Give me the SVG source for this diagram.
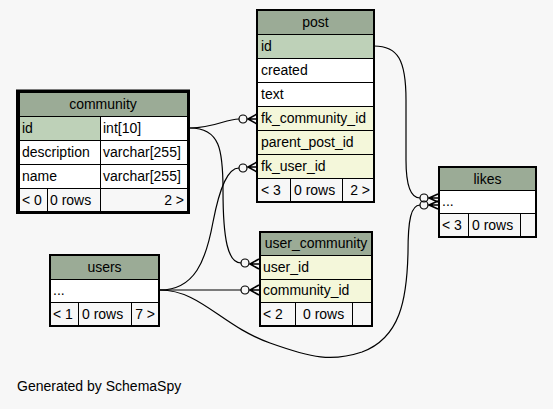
<svg xmlns="http://www.w3.org/2000/svg" width="553" height="409" viewBox="0 0 553 409">
<style>
text{font-family:"Liberation Sans",Arial,sans-serif;font-size:14px;fill:#000}
.c{stroke:#000;stroke-width:1}
.h{fill:#9bab96}
.pk{fill:#bed1b8}
.fk{fill:#f4f7da}
.w{fill:#ffffff}
.f{fill:#f7f7f7}
.o{fill:none;stroke:#000;stroke-width:1}
.m{text-anchor:middle}
.e{text-anchor:end}
.ln{fill:none;stroke:#000;stroke-width:1.2}
.dot{fill:none;stroke:#000;stroke-width:1.2}
.crow{fill:none;stroke:#000;stroke-width:1.6}
</style>
<rect width="553" height="409" fill="#f7f7f7"/>
<g id="connectors">
<path class="ln" d="M190,128 C215,128 225,119 239,119"/>
<circle class="dot" cx="243" cy="119" r="4"/>
<path class="crow" d="M257,114 L248,119 L257,124 M248,119 L257,119"/>
<path class="ln" d="M190,128 C220,128 223,150 223,190 C223,240 228,263 241,263"/>
<circle class="dot" cx="245" cy="263" r="4"/>
<path class="crow" d="M259,259 L250,264 L259,269 M250,264 L259,264"/>
<path class="ln" d="M160,290 C195,290 206,260 213,222 C220,186 228,168 239,168"/>
<circle class="dot" cx="243" cy="168" r="4"/>
<path class="crow" d="M257,162 L248,167 L257,172 M248,167 L257,167"/>
<path class="ln" d="M160,290 L241,290"/>
<circle class="dot" cx="245" cy="290" r="4"/>
<path class="crow" d="M259,285 L250,290 L259,295 M250,290 L259,290"/>
<path class="ln" d="M160,290 C200,290 222,326 270,343 C312,358 332,362 362,352 C400,338 407,300 408,252 C408,220 411,205 420,205"/>
<circle class="dot" cx="424" cy="205" r="4"/>
<path class="crow" d="M438,201 L429,205 L438,209 M429,205 L438,205"/>
<path class="ln" d="M374,46 C398,46 406,60 406,100 L406,160 C406,186 411,198 420,198"/>
<circle class="dot" cx="424" cy="198" r="4"/>
<path class="crow" d="M438,194 L429,198 L438,202 M429,198 L438,198"/>
</g>
<g id="community">
<rect class="c h" x="19.5" y="92.5" width="168" height="24"/>
<rect class="c pk" x="19.5" y="116.5" width="81" height="24"/>
<rect class="c w" x="100.5" y="116.5" width="87" height="24"/>
<rect class="c w" x="19.5" y="140.5" width="81" height="24"/>
<rect class="c w" x="100.5" y="140.5" width="87" height="24"/>
<rect class="c w" x="19.5" y="164.5" width="81" height="24"/>
<rect class="c w" x="100.5" y="164.5" width="87" height="24"/>
<rect class="c f" x="19.5" y="188.5" width="28" height="23"/>
<rect class="c f" x="47.5" y="188.5" width="53" height="23"/>
<rect class="c f" x="100.5" y="188.5" width="87" height="23"/>
<rect x="17.5" y="91" width="171" height="121.5" fill="none" stroke="#000" stroke-width="3"/>
<text class="m" x="103" y="109">community</text>
<text x="22" y="133">id</text>
<text x="103" y="133">int[10]</text>
<text x="22" y="157">description</text>
<text x="103" y="157">varchar[255]</text>
<text x="22" y="181">name</text>
<text x="103" y="181">varchar[255]</text>
<text x="22" y="205">&lt; 0</text>
<text x="50" y="205">0 rows</text>
<text class="e" x="184" y="205">2 &gt;</text>
</g>
<g id="post">
<rect class="c h" x="257.5" y="10.5" width="116" height="24"/>
<rect class="c pk" x="257.5" y="34.5" width="116" height="24"/>
<rect class="c w" x="257.5" y="58.5" width="116" height="24"/>
<rect class="c w" x="257.5" y="82.5" width="116" height="24"/>
<rect class="c fk" x="257.5" y="106.5" width="116" height="24"/>
<rect class="c fk" x="257.5" y="130.5" width="116" height="24"/>
<rect class="c fk" x="257.5" y="154.5" width="116" height="24"/>
<rect class="c f" x="257.5" y="178.5" width="33" height="23"/>
<rect class="c f" x="290.5" y="178.5" width="52" height="23"/>
<rect class="c f" x="342.5" y="178.5" width="31" height="23"/>
<rect class="o" x="256.5" y="9.5" width="118" height="193"/>
<text class="m" x="315.5" y="27">post</text>
<text x="261" y="51">id</text>
<text x="261" y="75">created</text>
<text x="261" y="99">text</text>
<text x="261" y="123">fk_community_id</text>
<text x="261" y="147">parent_post_id</text>
<text x="261" y="171">fk_user_id</text>
<text x="261" y="195">&lt; 3</text>
<text x="294" y="195">0 rows</text>
<text class="e" x="370" y="195">2 &gt;</text>
</g>
<g id="likes">
<rect class="c h" x="439.5" y="167.5" width="96" height="23"/>
<rect class="c w" x="439.5" y="190.5" width="96" height="23"/>
<rect class="c f" x="439.5" y="213.5" width="29" height="23"/>
<rect class="c f" x="468.5" y="213.5" width="52" height="23"/>
<rect class="c f" x="520.5" y="213.5" width="15" height="23"/>
<rect class="o" x="438.5" y="166.5" width="98" height="71"/>
<text class="m" x="487.5" y="184">likes</text>
<text x="442" y="206">...</text>
<text x="442" y="230">&lt; 3</text>
<text x="472" y="230">0 rows</text>
</g>
<g id="users">
<rect class="c h" x="50.5" y="255.5" width="108" height="24"/>
<rect class="c w" x="50.5" y="279.5" width="108" height="23"/>
<rect class="c f" x="50.5" y="302.5" width="28" height="23"/>
<rect class="c f" x="78.5" y="302.5" width="53" height="23"/>
<rect class="c f" x="131.5" y="302.5" width="27" height="23"/>
<rect class="o" x="49.5" y="254.5" width="110" height="72"/>
<text class="m" x="104.5" y="272">users</text>
<text x="53" y="295">...</text>
<text x="53" y="319">&lt; 1</text>
<text x="82" y="319">0 rows</text>
<text class="e" x="155" y="319">7 &gt;</text>
</g>
<g id="user_community">
<rect class="c h" x="260.5" y="232.5" width="111" height="23"/>
<rect class="c fk" x="260.5" y="255.5" width="111" height="24"/>
<rect class="c fk" x="260.5" y="279.5" width="111" height="23"/>
<rect class="c f" x="260.5" y="302.5" width="35" height="23"/>
<rect class="c f" x="295.5" y="302.5" width="57" height="23"/>
<rect class="c f" x="352.5" y="302.5" width="19" height="23"/>
<rect class="o" x="259.5" y="231.5" width="113" height="95"/>
<text class="m" x="316" y="248">user_community</text>
<text x="263" y="272">user_id</text>
<text x="263" y="295">community_id</text>
<text x="263" y="319">&lt; 2</text>
<text x="303" y="319">0 rows</text>
</g>
<text x="17" y="391">Generated by SchemaSpy</text>
</svg>
